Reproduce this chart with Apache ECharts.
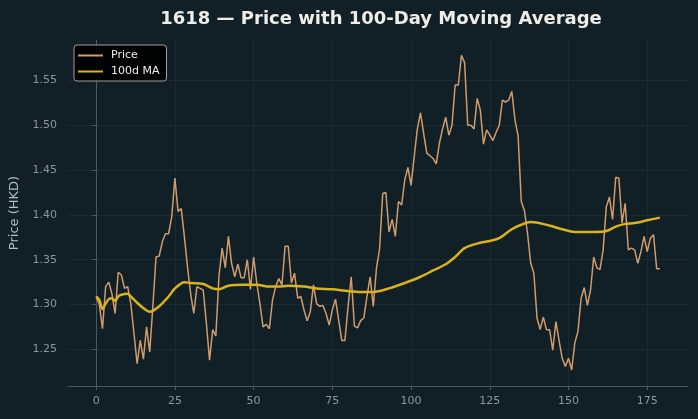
<!DOCTYPE html>
<html>
<head>
<meta charset="utf-8">
<script src="https://cdn.jsdelivr.net/npm/echarts@6/dist/echarts.min.js"></script>
<style>
  html, body { margin: 0; padding: 0; background: #111f26; }
  #chart { width: 698px; height: 419px; }
</style>
</head>
<body>
<div id="chart"></div>
<script>
// daily closing price, day 0..179
const price = [
  1.309, 1.300, 1.273, 1.320, 1.325, 1.312, 1.290, 1.336, 1.333, 1.318,
  1.320, 1.301, 1.268, 1.234, 1.260, 1.239, 1.275, 1.247, 1.298, 1.353,
  1.354, 1.370, 1.379, 1.379, 1.398, 1.441, 1.404, 1.407, 1.376, 1.342,
  1.312, 1.290, 1.320, 1.318, 1.316, 1.279, 1.238, 1.272, 1.265, 1.332,
  1.363, 1.341, 1.376, 1.346, 1.331, 1.345, 1.330, 1.330, 1.350, 1.317,
  1.353, 1.324, 1.301, 1.275, 1.278, 1.273, 1.305, 1.320, 1.329, 1.322,
  1.365, 1.365, 1.324, 1.335, 1.307, 1.309, 1.294, 1.282, 1.292, 1.322,
  1.301, 1.298, 1.299, 1.290, 1.277, 1.294, 1.306, 1.283, 1.260, 1.260,
  1.298, 1.331, 1.276, 1.274, 1.282, 1.285, 1.309, 1.331, 1.298, 1.340,
  1.362, 1.424, 1.425, 1.381, 1.395, 1.376, 1.415, 1.411, 1.439, 1.453,
  1.433, 1.465, 1.496, 1.514, 1.491, 1.469, 1.466, 1.463, 1.457, 1.480,
  1.496, 1.509, 1.489, 1.500, 1.545, 1.545, 1.578, 1.570, 1.500, 1.500,
  1.496, 1.530, 1.517, 1.479, 1.495, 1.489, 1.483, 1.492, 1.500, 1.528,
  1.526, 1.528, 1.538, 1.506, 1.488, 1.415, 1.405, 1.379, 1.346, 1.335,
  1.285, 1.272, 1.286, 1.272, 1.272, 1.249, 1.281, 1.260, 1.240, 1.231,
  1.240, 1.227, 1.257, 1.270, 1.307, 1.319, 1.299, 1.316, 1.353, 1.341,
  1.339, 1.361, 1.409, 1.420, 1.395, 1.442, 1.441, 1.391, 1.413, 1.361,
  1.363, 1.361, 1.346, 1.359, 1.376, 1.359, 1.374, 1.378, 1.340, 1.340
]

// 100-day moving average at these days
const maDays = [0, 1, 2, 3, 4, 5, 6, 7, 8, 10, 11, 13, 15, 17, 20, 23, 25, 28, 30, 34,
  37, 39, 42, 47, 51, 55, 58, 61, 66, 70, 75, 80, 84, 88, 93, 98, 103, 107, 111, 114,
  117, 122, 125, 128, 132, 135, 138, 143, 148, 152, 158, 162, 165, 168, 171, 175, 179]
const maVals = [1.309, 1.305, 1.295, 1.301, 1.306, 1.307, 1.304, 1.309, 1.311, 1.312,
  1.309, 1.302, 1.296, 1.292, 1.298, 1.309, 1.318, 1.325, 1.324, 1.323,
  1.318, 1.317, 1.321, 1.322, 1.322, 1.320, 1.320, 1.321, 1.320, 1.318,
  1.317, 1.315, 1.314, 1.314, 1.318, 1.324, 1.331, 1.338, 1.345, 1.353,
  1.363, 1.369, 1.371, 1.374, 1.384, 1.389, 1.392, 1.389, 1.384, 1.381,
  1.381, 1.382, 1.387, 1.390, 1.391, 1.394, 1.397]

const xTicks = [0, 25, 50, 75, 100, 125, 150, 175]
const yTicks = [1.25, 1.30, 1.35, 1.40, 1.45, 1.50, 1.55]

const chart = echarts.init(document.getElementById('chart'))

const gridColor = '#1b2b33'
const spineColor = '#4d5a61'
const tickText = '#8d969b'
const priceColor = '#d09c6c'
const maColor = '#d9b319'

chart.setOption({
  backgroundColor: '#111f26',
  animation: false,
  title: {
    text: '1618 — Price with 100-Day Moving Average',
    left: 376,
    top: 5,
    textAlign: 'center',
    textStyle: {
      color: '#f0ede6',
      fontFamily: 'DejaVu Sans',
      fontWeight: 'bold',
      fontSize: 18
    }
  },
  legend: {
    left: 74,
    top: 45,
    orient: 'vertical',
    backgroundColor: 'rgba(0,0,0,0.9)',
    borderColor: '#a0a0a0',
    borderWidth: 1,
    borderRadius: 3,
    padding: [5, 7, 4, 3],
    itemWidth: 25,
    itemHeight: 10,
    itemGap: 5,
    itemStyle: { opacity: 0 },
    textStyle: {
      color: '#eeeeee',
      fontFamily: 'DejaVu Sans',
      fontSize: 11,
      padding: [0, 0, 0, 3]
    },
    data: ['Price', '100d MA']
  },
  grid: {
    left: 68,
    right: 10,
    top: 40,
    bottom: 33
  },
  xAxis: {
    type: 'value',
    min: -8.95,
    max: 187.95,
    axisLine: { show: true, lineStyle: { color: spineColor, width: 1 } },
    axisTick: { show: true, length: 4, customValues: xTicks, lineStyle: { color: spineColor } },
    axisLabel: {
      customValues: xTicks,
      color: tickText,
      fontFamily: 'DejaVu Sans',
      fontSize: 11,
      margin: 10
    },
    splitLine: { show: true, customValues: xTicks, lineStyle: { color: gridColor, width: 1 } }
  },
  yAxis: {
    type: 'value',
    min: 1.2091,
    max: 1.5952,
    name: 'Price (HKD)',
    nameLocation: 'middle',
    nameGap: 40,
    nameTextStyle: {
      color: '#b5bcc0',
      fontFamily: 'DejaVu Sans',
      fontSize: 13
    },
    axisLine: { show: true, lineStyle: { color: spineColor, width: 1 } },
    axisTick: { show: true, length: 4, customValues: yTicks, lineStyle: { color: spineColor } },
    axisLabel: {
      customValues: yTicks,
      color: tickText,
      fontFamily: 'DejaVu Sans',
      fontSize: 11,
      margin: 11,
      formatter: v => v.toFixed(2)
    },
    splitLine: { show: true, customValues: yTicks, lineStyle: { color: gridColor, width: 1 } }
  },
  series: [{
    name: 'Price',
    type: 'line',
    data: price.map((v, i) => [i, v]),
    symbol: 'none',
    lineStyle: { color: priceColor, width: 1.5 },
    itemStyle: { color: priceColor },
    z: 2
  }, {
    name: '100d MA',
    type: 'line',
    data: maDays.map((d, i) => [d, maVals[i]]),
    symbol: 'none',
    smooth: 0.3,
    lineStyle: { color: maColor, width: 2.5 },
    itemStyle: { color: maColor },
    z: 3
  }]
})
</script>
</body>
</html>
